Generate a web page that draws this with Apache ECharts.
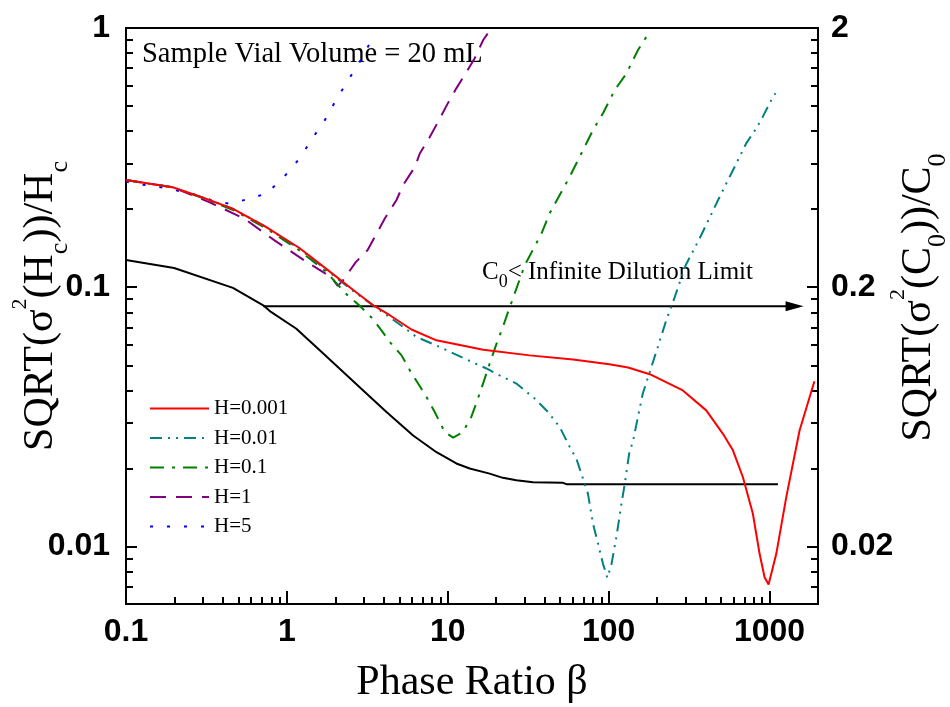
<!DOCTYPE html>
<html><head><meta charset="utf-8">
<script src="https://cdn.jsdelivr.net/npm/echarts@6/dist/echarts.min.js"></script>
<style>html,body{margin:0;padding:0;background:#fff}#c{width:950px;height:707px}</style>
</head><body><div id="c"></div>
<script>
// ---- tick values ----
const xMajor = [0.1, 1, 10, 100, 1000];
const xMinor = [0.2,0.3,0.4,0.5,0.6,0.7,0.8,0.9,2,3,4,5,6,7,8,9,20,30,40,50,60,70,80,90,200,300,400,500,600,700,800,900];
const yLeftMajor = [0.01, 0.1, 1];
const yLeftMinor = [0.007,0.008,0.009,0.02,0.03,0.04,0.05,0.06,0.07,0.08,0.09,0.2,0.3,0.4,0.5,0.6,0.7,0.8,0.9];
const yRightMajor = [0.02, 0.2, 2];
const yRightMinor = [0.014,0.016,0.018,0.04,0.06,0.08,0.1,0.12,0.14,0.16,0.18,0.4,0.6,0.8,1.0,1.2,1.4,1.6,1.8];

// ---- series data [beta, value] ----
const h0001 = [[0.1,0.259],[0.195,0.243],[0.299,0.222],[0.46,0.201],[0.74,0.171],[1.19,0.142],[1.75,0.118],[2.68,0.0959],[3.49,0.0847],[4.36,0.078],[5.95,0.0687],[8.5,0.0624],[16.6,0.0574],[32.3,0.0546],[60,0.0526],[101,0.0505],[132,0.049],[180,0.0462],[289,0.040],[404,0.0335],[513,0.0272],[592,0.0235],[683,0.0185],[787,0.0134],[867,0.00937],[931,0.00761],[986,0.00713],[1101,0.00937],[1270,0.0155],[1536,0.028],[1900,0.0434]];
const h001 = [[0.1,0.259],[0.195,0.243],[0.299,0.222],[0.46,0.201],[0.74,0.171],[1.19,0.141],[1.75,0.117],[2.68,0.095],[3.78,0.0815],[5.28,0.0703],[6.39,0.0643],[8.92,0.0588],[13.1,0.0526],[17.4,0.0486],[21.0,0.0457],[26.7,0.0425],[34.7,0.0372],[42.0,0.033],[49.6,0.0289],[57.3,0.0242],[63.0,0.0218],[67.6,0.0191],[74.3,0.016],[79.9,0.01225],[85.9,0.01024],[92.2,0.00857],[98.2,0.00757],[104,0.00853],[112,0.011],[120,0.0146],[126,0.0175],[134,0.0228],[142,0.0257],[152,0.0316],[163,0.0389],[180,0.0471],[202,0.0588],[228,0.0746],[245,0.0839],[301,0.1216],[367,0.154],[489,0.223],[621,0.300],[716,0.359],[826,0.41],[908,0.455],[1025,0.527],[1089,0.56]];
const h01 = [[0.1,0.259],[0.195,0.243],[0.299,0.221],[0.46,0.199],[0.74,0.169],[1.19,0.139],[1.75,0.115],[2.32,0.0945],[2.81,0.0852],[3.41,0.0757],[3.87,0.0682],[4.36,0.0615],[5.16,0.0546],[5.81,0.0478],[6.54,0.0425],[7.38,0.0377],[8.30,0.033],[9.58,0.0276],[10.8,0.0263],[12.4,0.0276],[14.0,0.0316],[15.8,0.0389],[18.2,0.0507],[20.1,0.0606],[22.0,0.0703],[23.7,0.0803],[30.1,0.1216],[38.2,0.161],[43.0,0.193],[57.3,0.267],[67.6,0.328],[79.9,0.404],[92.2,0.469],[109,0.576],[129,0.668],[152,0.822],[180,0.968]];
const h1 = [[0.1,0.259],[0.195,0.243],[0.329,0.213],[0.543,0.184],[0.834,0.152],[1.33,0.125],[1.88,0.1096],[2.07,0.1012],[2.22,0.1058],[2.68,0.125],[3.17,0.139],[3.69,0.165],[4.06,0.184],[4.80,0.217],[5.28,0.248],[6.24,0.291],[6.70,0.328],[7.73,0.38],[8.71,0.435],[10.0,0.512],[11.3,0.585],[13.1,0.678],[14.7,0.764],[16.6,0.899],[18.7,1.0]];
const h5 = [[0.1,0.256],[0.1126,0.25],[0.15,0.246],[0.195,0.238],[0.266,0.228],[0.337,0.217],[0.438,0.21],[0.578,0.219],[0.748,0.23],[0.962,0.267],[1.2,0.314],[1.44,0.375],[1.72,0.441],[2.02,0.527],[2.35,0.615],[2.84,0.741],[3.25,0.865]];
const dilutionLimit = [[0.1,0.1274],[0.199,0.1187],[0.462,0.0994],[0.713,0.0852],[0.796,0.0803],[1.14,0.0693],[1.60,0.0571],[2.13,0.0485],[2.98,0.04],[4.16,0.033],[6.09,0.0268],[8.51,0.0231],[11.3,0.0209],[13.7,0.02],[18.2,0.0191],[22.0,0.0184],[26.7,0.018],[33.9,0.0177],[52.0,0.0176],[54.6,0.0174],[1127,0.0174]];
const arrowLine = [[0.713,0.0844],[1430,0.0844]];

const SERIF = '"Liberation Serif","Times New Roman",serif';
const SANS = '"Liberation Sans",Arial,sans-serif';
const fmt = v => String(+(+v).toPrecision(4));

const tickLbl = {fontFamily: SANS, fontWeight: 'bold', fontSize: 32, color: '#000'};
const axLine = {show: true, lineStyle: {color: '#000', width: 2}};

function majorAxis(extra) { return Object.assign({type: 'log', logBase: 10, splitLine: {show: false}, axisLine: axLine, nameMoveOverlap: false}, extra); }
function minorAxis(extra) { return Object.assign({type: 'log', logBase: 10, splitLine: {show: false}, axisLine: {show: false}, axisLabel: {show: false}}, extra); }

const richTitle = {
  a: {fontFamily: SERIF, fontSize: 42, lineHeight: 64, verticalAlign: 'middle', color: '#000'},
  sup: {fontFamily: SERIF, fontSize: 22, lineHeight: 22, verticalAlign: 'top', color: '#000'},
  sub: {fontFamily: SERIF, fontSize: 26, lineHeight: 26, verticalAlign: 'bottom', color: '#000'}
};

const chart = echarts.init(document.getElementById('c'), null, {renderer: 'canvas'});
chart.setOption({
  animation: false,
  backgroundColor: '#fff',
  grid: {left: 126, right: 132, top: 28, bottom: 103, show: true, borderColor: '#000', borderWidth: 2, containLabel: false, outerBoundsMode: 'none'},
  legend: {
    data: ['H=0.001', 'H=0.01', 'H=0.1', 'H=1', 'H=5'],
    orient: 'vertical', left: 144, top: 393, padding: 5, itemWidth: 59, itemHeight: 20, itemGap: 8.5,
    itemStyle: {opacity: 0},
    textStyle: {fontFamily: SERIF, fontSize: 21, color: '#000', lineHeight: 20},
    selectedMode: false
  },
  xAxis: [
    majorAxis({min: 0.1, max: 2000, position: 'bottom',
      axisTick: {show: true, inside: true, length: 13, customValues: xMajor, lineStyle: {color: '#000', width: 2}},
      axisLabel: Object.assign({customValues: xMajor, margin: 12, formatter: fmt}, tickLbl),
      name: 'Phase Ratio β', nameLocation: 'middle', nameGap: 58,
      nameTextStyle: {fontFamily: SERIF, fontSize: 42, color: '#000'}}),
    minorAxis({min: 0.1, max: 2000, position: 'bottom',
      axisTick: {show: true, inside: true, length: 7, customValues: xMinor, lineStyle: {color: '#000', width: 2}}})
  ],
  yAxis: [
    majorAxis({min: 0.006, max: 1, position: 'left',
      axisTick: {show: true, inside: true, length: 11, customValues: yLeftMajor, lineStyle: {color: '#000', width: 2}},
      axisLabel: Object.assign({customValues: yLeftMajor, margin: 16, formatter: fmt}, tickLbl),
      name: '{a|SQRT(σ}{sup|2}{a|(H}{sub|c}{a|))/H}{sub|c}', nameLocation: 'middle', nameGap: 53, nameRotate: 90,
      nameTextStyle: {rich: richTitle, padding: [0, 0, 0, 20]}}),
    majorAxis({min: 0.012, max: 2, position: 'right',
      axisTick: {show: true, inside: true, length: 11, customValues: yRightMajor, lineStyle: {color: '#000', width: 2}},
      axisLabel: Object.assign({customValues: yRightMajor, margin: 13, formatter: fmt}, tickLbl),
      name: '{a|SQRT(σ}{sup|2}{a|(C}{sub|0}{a|))/C}{sub|0}', nameLocation: 'middle', nameGap: 69, nameRotate: 90,
      nameTextStyle: {rich: richTitle, padding: [0, 0, 0, 37]}}),
    minorAxis({min: 0.006, max: 1, position: 'left',
      axisTick: {show: true, inside: true, length: 7, customValues: yLeftMinor, lineStyle: {color: '#000', width: 2}}}),
    minorAxis({min: 0.012, max: 2, position: 'right',
      axisTick: {show: true, inside: true, length: 7, customValues: yRightMinor, lineStyle: {color: '#000', width: 2}}})
  ],
  graphic: [
    {type: 'text', left: 142, top: 40, style: {text: 'Sample Vial Volume = 20 mL', font: '28.5px ' + SERIF, fill: '#000'}},
    {type: 'text', left: 482, top: 260, style: {
      text: '{a|C}{b|0}{a|< Infinite Dilution Limit}',
      rich: {
        a: {fontFamily: SERIF, fontSize: 25, lineHeight: 38, verticalAlign: 'middle', fill: '#000', color: '#000'},
        b: {fontFamily: SERIF, fontSize: 18, lineHeight: 18, verticalAlign: 'bottom', fill: '#000', color: '#000'}
      }}}
  ],
  series: [
    {name: 'limit', type: 'line', data: dilutionLimit, showSymbol: false, symbol: 'none', lineStyle: {color: '#000', width: 2}, itemStyle: {color: '#000'}, z: 2},
    {name: 'arrow', type: 'line', showSymbol: true, symbol: 'none',
      data: [{value: arrowLine[0], symbol: 'none'}, {value: arrowLine[1], symbol: 'triangle', symbolSize: [10, 18], symbolRotate: -90}],
      lineStyle: {color: '#000', width: 2}, itemStyle: {color: '#000'}, z: 2},
    {name: 'H=5', type: 'line', data: h5, showSymbol: false, symbol: 'none', lineStyle: {color: '#0000FF', width: 2, type: [3, 14]}, itemStyle: {color: '#0000FF'}, z: 3},
    {name: 'H=1', type: 'line', data: h1, showSymbol: false, symbol: 'none', lineStyle: {color: '#800080', width: 2, type: [16, 10]}, itemStyle: {color: '#800080'}, z: 3},
    {name: 'H=0.1', type: 'line', data: h01, showSymbol: false, symbol: 'none', lineStyle: {color: '#008000', width: 2, type: [14, 8, 3, 8]}, itemStyle: {color: '#008000'}, z: 3},
    {name: 'H=0.01', type: 'line', data: h001, showSymbol: false, symbol: 'none', lineStyle: {color: '#008080', width: 2, type: [12, 6, 2, 6, 2, 6]}, itemStyle: {color: '#008080'}, z: 3},
    {name: 'H=0.001', type: 'line', data: h0001, showSymbol: false, symbol: 'none', lineStyle: {color: '#FF0000', width: 2}, itemStyle: {color: '#FF0000'}, z: 4}
  ]
});
</script>
</body></html>
